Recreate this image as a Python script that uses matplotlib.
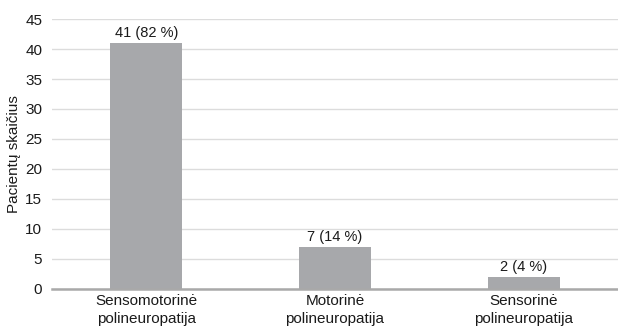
import matplotlib.pyplot as plt

plt.rcParams['font.family'] = ['Liberation Sans', 'DejaVu Sans']
plt.rcParams['font.size'] = 11

CATEGORIES = ['Sensomotorinė\npolineuropatija', 'Motorinė\npolineuropatija', 'Sensorinė\npolineuropatija']
COUNTS = [41, 7, 2]
PERCENTS = [82, 14, 4]
YTICKS = [0, 5, 10, 15, 20, 25, 30, 35, 40, 45]

fig = plt.figure(figsize=(6.18, 3.34), dpi=100)
ax = fig.add_axes([0.084, 0.135, 0.916, 0.808])

x = range(len(CATEGORIES))
ax.bar(x, COUNTS, width=0.38, color='#a7a8ab', zorder=3)
for i, (c, p) in enumerate(zip(COUNTS, PERCENTS)):
    ax.annotate(f'{c} ({p} %)', (i, c), xytext=(0, 2), textcoords='offset points',
                ha='center', va='bottom', fontsize=10.5, color='#1a1a1a')

ax.set_xlim(-0.5, 2.5)
ax.set_ylim(0, 45)
ax.set_yticks(YTICKS)
ax.set_xticks(list(x))
ax.set_xticklabels(CATEGORIES, color='#1a1a1a', linespacing=1.3)
ax.tick_params(axis='y', length=0, pad=7, colors='#1a1a1a')
ax.tick_params(axis='x', length=0, pad=4)
ax.grid(axis='y', color='#dcdcdc', linewidth=1.0, zorder=0)
ax.axhline(0, color='#a9a9a9', linewidth=1.8, zorder=4, clip_on=False)
for s in ax.spines.values():
    s.set_visible(False)
ax.set_ylabel('Pacientų skaičius', color='#1a1a1a', labelpad=3)

fig.savefig('out.png', dpi=100)
